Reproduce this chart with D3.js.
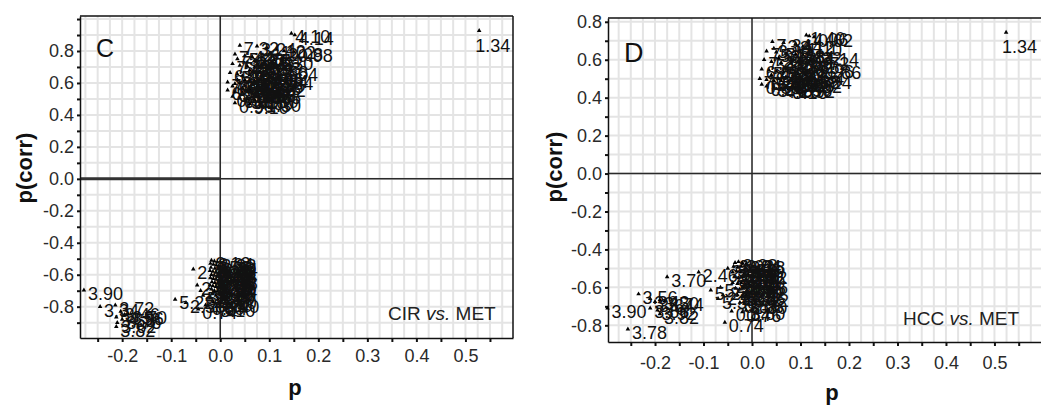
<!DOCTYPE html>
<html><head><meta charset="utf-8">
<script src="https://cdn.jsdelivr.net/npm/d3@7"></script>
<style>
body{margin:0;background:#fff}
text{font-family:"Liberation Sans",Arial,sans-serif}
</style>
</head><body>
<svg id="chart" width="1041" height="407"></svg>
<script>
// ---------- DATA ----------
const xTickValues = [-0.25,-0.2,-0.15,-0.1,-0.05,0,0.05,0.1,0.15,0.2,0.25,0.3,0.35,0.4,0.45,0.5,0.55];
const xTickLabels = [-0.2,-0.1,0,0.1,0.2,0.3,0.4,0.5];
const yTickValuesC = [-0.9,-0.8,-0.7,-0.6,-0.5,-0.4,-0.3,-0.2,-0.1,0,0.1,0.2,0.3,0.4,0.5,0.6,0.7,0.8,0.9,1.0];
const yTickValuesD = [-0.8,-0.7,-0.6,-0.5,-0.4,-0.3,-0.2,-0.1,0,0.1,0.2,0.3,0.4,0.5,0.6,0.7,0.8];
const yTickLabels = [-0.8,-0.6,-0.4,-0.2,0,0.2,0.4,0.6,0.8];

// Panel C (CIR vs. MET): [p, p(corr), label]
const cUpper = [
 [0.145,0.91,"4.10"],[0.152,0.90,"4.14"],
 [0.04,0.835,"7.32"],[0.075,0.83,"3.24"],[0.095,0.82,"4.12"],[0.115,0.81,"1.02"],[0.13,0.80,"2.08"],[0.15,0.795,"0.98"],
 [0.03,0.78,"7.44"],[0.05,0.77,"5.38"],[0.065,0.765,"6.16"],[0.085,0.76,"2.54"],[0.11,0.745,"8.30"],[0.035,0.75,"7.26"],
 [0.025,0.72,"7.18"],[0.04,0.71,"5.86"],[0.055,0.705,"4.42"],[0.07,0.70,"2.72"],[0.085,0.71,"3.98"],[0.10,0.69,"1.58"],[0.12,0.675,"3.04"],
 [0.02,0.665,"6.98"],[0.035,0.655,"5.46"],[0.045,0.645,"4.88"],[0.06,0.65,"2.90"],[0.075,0.64,"3.56"],[0.09,0.645,"4.06"],[0.10,0.63,"1.64"],[0.11,0.62,"2.84"],
 [0.015,0.605,"7.62"],[0.03,0.595,"6.34"],[0.04,0.60,"3.42"],[0.05,0.585,"5.02"],[0.065,0.59,"5.54"],[0.075,0.58,"4.28"],[0.085,0.585,"2.26"],[0.095,0.575,"1.92"],
 [0.015,0.555,"6.50"],[0.03,0.545,"5.74"],[0.045,0.54,"2.18"],[0.055,0.55,"4.96"],[0.065,0.535,"3.88"],[0.075,0.545,"1.26"],[0.085,0.53,"0.86"],
 [0.025,0.515,"0.92"],[0.04,0.505,"6.09"],[0.055,0.50,"5.10"],[0.07,0.495,"4.50"],[0.08,0.505,"1.80"],
 [0.05,0.62,"3.18"],[0.06,0.68,"6.72"],[0.07,0.615,"2.62"],[0.08,0.67,"5.66"],[0.045,0.57,"1.46"],[0.06,0.56,"0.66"],
 [0.055,0.73,"2.44"],[0.07,0.74,"4.78"],[0.09,0.60,"3.36"],[0.035,0.62,"7.06"],[0.025,0.58,"6.26"],
 [0.03,0.475,"0.90"],[0.06,0.47,"9.10"],[0.085,0.48,"1.30"]
];
const cLower = [
 [-0.018,-0.51,"3.12"],[-0.012,-0.515,"3.34"],[-0.006,-0.52,"2.98"],[-0.02,-0.53,"3.56"],[-0.014,-0.535,"3.08"],
 [-0.008,-0.54,"3.76"],[-0.003,-0.545,"2.84"],[-0.019,-0.555,"3.22"],[-0.011,-0.56,"3.48"],[-0.005,-0.565,"3.02"],
 [-0.021,-0.575,"3.60"],[-0.015,-0.58,"2.88"],[-0.009,-0.585,"3.26"],[-0.004,-0.59,"3.14"],[-0.018,-0.60,"3.42"],
 [-0.012,-0.605,"2.92"],[-0.006,-0.61,"3.38"],[-0.02,-0.62,"3.04"],[-0.014,-0.625,"3.18"],[-0.008,-0.63,"2.96"],
 [-0.003,-0.635,"3.28"],[-0.017,-0.645,"3.52"],[-0.011,-0.65,"3.06"],[-0.005,-0.655,"2.86"],[-0.021,-0.665,"3.32"],
 [-0.015,-0.67,"3.10"],[-0.009,-0.675,"2.94"],[-0.004,-0.68,"3.44"],[-0.018,-0.69,"3.00"],[-0.012,-0.70,"3.16"],
 [-0.006,-0.705,"2.90"],[-0.016,-0.72,"3.30"],[-0.009,-0.73,"3.40"],[-0.02,-0.745,"2.80"],[-0.005,-0.755,"3.20"],
 [-0.014,-0.77,"0.80"],[0.0,-0.78,"3.40"],[-0.025,-0.79,"0.84"],[-0.008,-0.80,"3.10"],
 [-0.055,-0.565,"2.46"],[-0.047,-0.665,"2.62"],[-0.04,-0.70,"2.40"],[-0.035,-0.73,"5.24"],[-0.092,-0.755,"5.22"],
 [-0.07,-0.775,"2.56"],[-0.045,-0.815,"0.74"],[-0.03,-0.79,"4.80"]
];
const cLeft = [
 [-0.245,-0.80,"3.34"],[-0.214,-0.79,"3.72"],[-0.203,-0.83,"3.46"],[-0.212,-0.865,"3.58"],[-0.21,-0.90,"3.62"],
 [-0.212,-0.925,"3.82"],[-0.195,-0.85,"4.56"],[-0.188,-0.845,"3.70"],[-0.20,-0.88,"3.76"],[-0.278,-0.697,"3.90"]
];
const cOutlier = [[0.528,0.927,"1.34"]];

// Panel D (HCC vs. MET)
const dUpper = [
 [0.112,0.73,"1.40"],[0.118,0.725,"4.06"],[0.128,0.72,"0.62"],[0.042,0.695,"7.34"],[0.065,0.69,"3.44"],[0.09,0.685,"2.12"],[0.105,0.67,"1.10"],
 [0.03,0.645,"7.54"],[0.05,0.64,"5.16"],[0.07,0.635,"6.48"],[0.09,0.63,"2.84"],[0.105,0.625,"3.32"],[0.14,0.62,"4.14"],[0.12,0.60,"1.72"],
 [0.025,0.60,"7.28"],[0.04,0.59,"5.92"],[0.06,0.585,"4.46"],[0.08,0.58,"3.78"],[0.10,0.575,"2.76"],[0.13,0.555,"2.96"],[0.145,0.55,"1.86"],
 [0.02,0.55,"6.88"],[0.035,0.545,"5.58"],[0.05,0.54,"4.74"],[0.065,0.535,"3.96"],[0.08,0.53,"3.06"],[0.095,0.525,"2.38"],[0.11,0.52,"1.54"],[0.125,0.50,"3.24"],
 [0.016,0.50,"7.12"],[0.03,0.495,"6.40"],[0.045,0.49,"5.30"],[0.06,0.49,"4.32"],[0.075,0.485,"3.52"],[0.09,0.48,"2.50"],[0.105,0.475,"0.82"],[0.09,0.45,"1.92"],
 [0.03,0.46,"6.24"],[0.045,0.455,"5.48"],[0.06,0.45,"4.20"],[0.075,0.445,"3.16"],[0.085,0.455,"0.96"],
 [0.055,0.61,"2.66"],[0.07,0.56,"1.36"],[0.085,0.60,"5.06"],[0.04,0.52,"6.66"],[0.055,0.50,"2.02"],[0.07,0.51,"1.44"],[0.10,0.50,"4.68"],[0.045,0.66,"3.12"],[0.02,0.47,"0.58"]
];
const dLower = [
 [-0.035,-0.47,"3.02"],[-0.028,-0.465,"3.28"],[-0.02,-0.47,"2.94"],[-0.012,-0.475,"3.18"],
 [-0.038,-0.49,"3.40"],[-0.03,-0.495,"2.88"],[-0.022,-0.49,"3.56"],[-0.014,-0.50,"3.10"],
 [-0.04,-0.52,"2.70"],[-0.032,-0.515,"3.36"],[-0.024,-0.52,"3.08"],[-0.016,-0.525,"2.90"],[-0.008,-0.53,"3.22"],
 [-0.036,-0.545,"3.48"],[-0.028,-0.55,"2.82"],[-0.02,-0.545,"3.14"],[-0.012,-0.555,"3.30"],
 [-0.04,-0.575,"2.58"],[-0.03,-0.58,"3.04"],[-0.022,-0.575,"3.44"],[-0.014,-0.585,"2.76"],[-0.006,-0.58,"3.26"],
 [-0.034,-0.605,"2.52"],[-0.026,-0.61,"3.38"],[-0.018,-0.605,"3.00"],[-0.01,-0.615,"2.92"],
 [-0.03,-0.64,"2.48"],[-0.02,-0.645,"3.32"],[-0.012,-0.64,"2.86"],[-0.004,-0.65,"3.12"],
 [-0.025,-0.68,"0.87"],[-0.015,-0.685,"3.06"],[-0.008,-0.69,"2.80"],
 [-0.042,-0.725,"0.84"],[-0.02,-0.73,"0.76"],[-0.012,-0.72,"3.60"],[-0.056,-0.785,"0.74"],
 [-0.05,-0.50,"2.36"],[-0.11,-0.52,"2.46"],[-0.175,-0.545,"3.70"],[-0.085,-0.615,"5.22"],
 [-0.065,-0.60,"5.24"],[-0.06,-0.64,"2.42"],[-0.07,-0.66,"5.30"]
];
const dLeft = [
 [-0.234,-0.635,"3.56"],[-0.21,-0.66,"3.42"],[-0.20,-0.675,"3.64"],[-0.19,-0.665,"3.50"],[-0.18,-0.67,"3.74"],
 [-0.21,-0.71,"3.86"],[-0.195,-0.72,"3.92"],[-0.256,-0.82,"3.78"],[-0.19,-0.74,"3.82"],[-0.298,-0.71,"3.90"]
];
const dOutlier = [[0.524,0.744,"1.34"]];

// ---------- DRAW ----------
const svg = d3.select("#chart");
const fmt = v => (Math.abs(v) < 1e-9 ? 0 : v).toFixed(1);
const isLabeled = (v, list) => list.some(t => Math.abs(t - v) < 1e-9);

function panel(cfg) {
  const x = d3.scaleLinear().domain(cfg.xd).range([cfg.left, cfg.right]);
  const y = d3.scaleLinear().domain(cfg.yd).range([cfg.bottom, cfg.top]);
  const g = svg.append("g");

  // grid
  const xg = d3.range(-12, 25).map(i => i * 0.025).filter(v => v > cfg.xd[0] && v < cfg.xd[1]);
  const yg = d3.range(-10, 11).map(i => i * 0.1).filter(v => v > cfg.yd[0] && v < cfg.yd[1]);
  g.append("g").selectAll("line").data(xg).join("line")
    .attr("x1", d => x(d)).attr("x2", d => x(d)).attr("y1", cfg.top).attr("y2", cfg.bottom)
    .attr("stroke", "#e4e4e4").attr("stroke-width", 2);
  g.append("g").selectAll("line").data(yg).join("line")
    .attr("y1", d => y(d)).attr("y2", d => y(d)).attr("x1", cfg.left).attr("x2", cfg.right)
    .attr("stroke", "#e4e4e4").attr("stroke-width", 2);

  // zero lines
  g.append("line").attr("x1", x(0)).attr("x2", x(0)).attr("y1", cfg.top).attr("y2", cfg.bottom)
    .attr("stroke", "#2a2a2a").attr("stroke-width", 1.5);
  g.append("line").attr("x1", cfg.left).attr("x2", cfg.right).attr("y1", y(0)).attr("y2", y(0))
    .attr("stroke", "#2a2a2a").attr("stroke-width", 1.5);
  if (cfg.thickZero) {
    g.append("line").attr("x1", cfg.left).attr("x2", x(0)).attr("y1", y(0)).attr("y2", y(0))
      .attr("stroke", "#333").attr("stroke-width", 3);
  }

  // frame top / right
  g.append("line").attr("x1", cfg.left).attr("x2", cfg.right).attr("y1", cfg.top).attr("y2", cfg.top)
    .attr("stroke", "#111").attr("stroke-width", 1.5);
  if (cfg.rightBorder) {
    g.append("line").attr("x1", cfg.right).attr("x2", cfg.right).attr("y1", cfg.top).attr("y2", cfg.bottom)
      .attr("stroke", "#111").attr("stroke-width", 1.5);
  }

  // axes
  const xAxis = d3.axisBottom(x).tickValues(xTickValues.filter(v => v >= cfg.xd[0] && v <= cfg.xd[1]))
    .tickSize(4).tickSizeOuter(0).tickPadding(cfg.xPad)
    .tickFormat(v => isLabeled(v, xTickLabels) ? fmt(v) : "");
  const ax = g.append("g").attr("transform", `translate(0,${cfg.bottom})`).call(xAxis);
  const yAxis = d3.axisLeft(y).tickValues(cfg.yTicks)
    .tickSize(3).tickSizeOuter(0).tickPadding(3)
    .tickFormat(v => isLabeled(v, yTickLabels) ? fmt(v) : "");
  const ay = g.append("g").attr("transform", `translate(${cfg.left},0)`).call(yAxis);
  [ax, ay].forEach(a => {
    a.select(".domain").attr("stroke", "#111").attr("stroke-width", 1.5);
    a.selectAll(".tick line").attr("stroke", "#111").attr("stroke-width", 2);
    a.selectAll(".tick text").attr("font-size", 18).attr("fill", "#2a2a2a")
      .attr("font-family", "'Liberation Sans', Arial, sans-serif");
  });

  // points
  const pts = cfg.upper.concat(cfg.lower, cfg.leftGroup, cfg.outlier);
  const tri = d3.symbol().type(d3.symbolTriangle).size(9);
  const pg = g.append("g");
  pg.selectAll("path").data(pts).join("path")
    .attr("transform", d => `translate(${x(d[0])},${y(d[1])})`)
    .attr("d", tri).attr("fill", "#000");
  pg.selectAll("text").data(pts).join("text")
    .attr("x", d => x(d[0]) + (d[0] > 0.4 ? -4 : 4))
    .attr("y", d => y(d[1]) + (d[0] > 0.4 ? 21 : 10))
    .attr("font-size", 18).attr("fill", "#111")
    .text(d => d[2]);

  // panel letter
  g.append("text").attr("x", cfg.letterX).attr("y", cfg.letterY).attr("font-size", cfg.letterSize)
    .attr("fill", "#111").text(cfg.letter);

  // comparison
  const ct = g.append("text").attr("x", cfg.cmpX).attr("y", cfg.cmpY).attr("font-size", 19).attr("fill", "#222");
  ct.append("tspan").text(cfg.cmp[0] + " ");
  ct.append("tspan").attr("font-style", "italic").text("vs.");
  ct.append("tspan").text(" " + cfg.cmp[1]);

  // axis titles
  g.append("text").attr("x", cfg.pX).attr("y", cfg.pY).attr("text-anchor", "middle")
    .attr("font-size", 22).attr("font-weight", "bold").attr("fill", "#111").text("p");
  g.append("text").attr("transform", `translate(${cfg.pcX},${cfg.pcY}) rotate(-90)`)
    .attr("text-anchor", "middle").attr("font-size", 22).attr("font-weight", "bold")
    .attr("fill", "#111").text("p(corr)");
}

panel({
  left: 80, right: 513, top: 16, bottom: 338,
  xd: [-0.286, 0.597], yd: [-0.996, 1.019], yTicks: yTickValuesC, xPad: 7,
  upper: cUpper, lower: cLower, leftGroup: cLeft, outlier: cOutlier,
  thickZero: true, rightBorder: true,
  letter: "C", letterX: 96, letterY: 57, letterSize: 25,
  cmp: ["CIR", "MET"], cmpX: 388, cmpY: 320,
  pX: 295, pY: 395, pcX: 32, pcY: 168
});
panel({
  left: 608, right: 1041, top: 18, bottom: 342,
  xd: [-0.297, 0.596], yd: [-0.888, 0.82], yTicks: yTickValuesD, xPad: 10,
  upper: dUpper, lower: dLower, leftGroup: dLeft, outlier: dOutlier,
  thickZero: false, rightBorder: false,
  letter: "D", letterX: 624, letterY: 62, letterSize: 27,
  cmp: ["HCC", "MET"], cmpX: 903, cmpY: 325,
  pX: 832, pY: 400, pcX: 562, pcY: 167
});
</script>
</body></html>
